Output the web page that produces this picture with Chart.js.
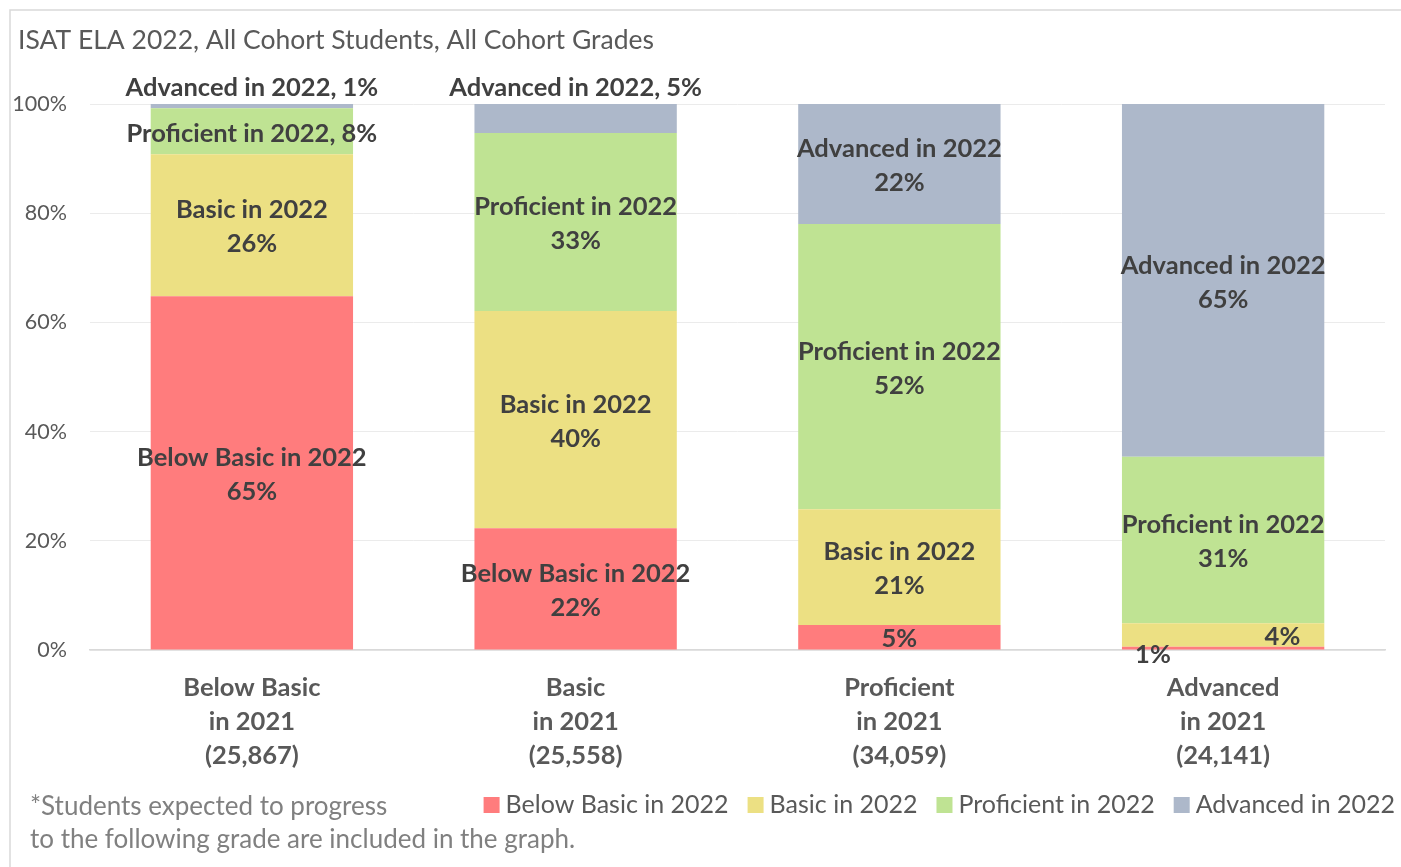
<!DOCTYPE html>
<html><head><meta charset="utf-8">
<script src="https://cdn.jsdelivr.net/npm/chart.js@4.4.1/dist/chart.umd.min.js"></script>
<style>html,body{margin:0;padding:0;background:#fff;} #wrap{width:1401px;height:867px;position:relative}</style>
</head><body><div id="wrap"><canvas id="c" width="1401" height="867" style="width:1401px;height:867px"></canvas></div>
<script>
// ---- data ----
const categories = [["Below Basic","in 2021","(25,867)"],["Basic","in 2021","(25,558)"],["Proficient","in 2021","(34,059)"],["Advanced","in 2021","(24,141)"]];
const seriesNames = ["Below Basic in 2022","Basic in 2022","Proficient in 2022","Advanced in 2022"];
const belowBasic2022 = [64.8, 22.3, 4.6, 0.6];
const basic2022 = [26.0, 39.8, 21.2, 4.3];
const proficient2022 = [8.4, 32.6, 52.2, 30.5];
const advanced2022 = [0.8, 5.3, 22.0, 64.6];
const yTickValues = [0, 20, 40, 60, 80, 100];
const chartTitle = "ISAT ELA 2022, All Cohort Students, All Cohort Grades";
const footnoteLines = ["*Students expected to progress", "to the following grade are included in the graph."];

// ---- styles ----
const seriesColors = ["#FF7C7D", "#ECE083", "#BFE393", "#ADB8CA"];
// label placement per series, per category
const labelModes = [
  ["two", "two", "pct", "belowLeft"],
  ["two", "two", "two", "right"],
  ["one", "two", "two", "two"],
  ["above", "above", "two", "two"]
];
const FONT = "Lato, 'Open Sans', sans-serif";
Chart.defaults.font.family = FONT;

const labelPlugin = {
  id: "segLabels",
  afterDatasetsDraw(chart) {
    const ctx = chart.ctx;
    ctx.save();
    ctx.fillStyle = "#404040";
    ctx.font = "bold 25.5px " + FONT;
    ctx.textBaseline = "middle";
    chart.data.datasets.forEach((ds, di) => {
      const meta = chart.getDatasetMeta(di);
      meta.data.forEach((bar, i) => {
        const v = ds.data[i];
        const pct = Math.round(v) + "%";
        const top = Math.min(bar.y, bar.base), bot = Math.max(bar.y, bar.base);
        const cy = (top + bot) / 2 + 2;
        const half = bar.width / 2;
        const mode = labelModes[di][i];
        ctx.textAlign = "center";
        if (mode === "two") {
          ctx.fillText(ds.label, bar.x, cy - 17);
          ctx.fillText(pct, bar.x, cy + 17);
        } else if (mode === "one") {
          ctx.fillText(ds.label + ", " + pct, bar.x, cy);
        } else if (mode === "above") {
          ctx.fillText(ds.label + ", " + pct, bar.x, top - 16);
        } else if (mode === "pct") {
          ctx.fillText(pct, bar.x, cy);
        } else if (mode === "right") {
          ctx.textAlign = "right";
          ctx.fillText(pct, bar.x + half - 24, cy);
        } else if (mode === "belowLeft") {
          ctx.fillText(pct, bar.x - half + 31, bot + 5);
        }
      });
    });
    ctx.restore();
  },
  afterDraw(chart) {
    const ctx = chart.ctx;
    ctx.save();
    // outer border
    ctx.strokeStyle = "#d9d9d9";
    ctx.lineWidth = 1.5;
    ctx.strokeRect(10, 10, 1401, 867);
    // title
    ctx.fillStyle = "#595959";
    ctx.font = "26.5px " + FONT;
    ctx.textAlign = "left";
    ctx.textBaseline = "middle";
    ctx.fillText(chartTitle, 18, 40);
    // footnote
    ctx.fillStyle = "#808080";
    ctx.font = "26px " + FONT;
    ctx.fillText(footnoteLines[0], 30, 807);
    ctx.fillText(footnoteLines[1], 30, 840);
    // legend (right aligned)
    ctx.font = "25px " + FONT;
    const box = 16, gapText = 6, gapItem = 19;
    const items = chart.data.datasets.map(d => ({label: d.label, color: d.backgroundColor, w: ctx.measureText(d.label).width}));
    let total = items.reduce((s, it) => s + box + gapText + it.w, 0) + gapItem * (items.length - 1);
    let x = 1395 - total;
    const ly = 805;
    items.forEach(it => {
      ctx.fillStyle = it.color;
      ctx.fillRect(x, ly - 8, box, box);
      x += box + gapText;
      ctx.fillStyle = "#595959";
      ctx.fillText(it.label, x, ly);
      x += it.w + gapItem;
    });
    ctx.restore();
  }
};

const seriesValues = [belowBasic2022, basic2022, proficient2022, advanced2022];

new Chart(document.getElementById("c"), {
  type: "bar",
  data: {
    labels: categories,
    datasets: seriesNames.map((n, k) => ({
      label: n,
      data: seriesValues[k],
      backgroundColor: seriesColors[k],
      borderWidth: 0,
      barPercentage: 0.625,
      categoryPercentage: 1
    }))
  },
  options: {
    responsive: false,
    animation: false,
    devicePixelRatio: 1,
    layout: { padding: { top: 104, left: 10, right: 16, bottom: 87 } },
    plugins: { legend: { display: false }, title: { display: false }, tooltip: { enabled: false } },
    scales: {
      x: {
        stacked: true,
        grid: { display: false, drawTicks: false },
        border: { display: true, color: "#d9d9d9", width: 1.5 },
        ticks: { color: "#595959", font: { size: 25.5, weight: "bold", lineHeight: "34px" }, padding: 21, maxRotation: 0, autoSkip: false },
        afterFit(s) { s.height = 130; }
      },
      y: {
        stacked: true,
        min: 0, max: 100,
        afterBuildTicks(s) { s.ticks = yTickValues.map(v => ({ value: v })); },
        grid: { color: "#ebebeb", lineWidth: 1, drawTicks: false },
        border: { display: false },
        ticks: { color: "#595959", font: { size: 21.5 }, padding: 23, callback: v => v + "%" },
        afterFit(s) { s.width = 80; }
      }
    }
  },
  plugins: [labelPlugin]
});
</script>
</body></html>
